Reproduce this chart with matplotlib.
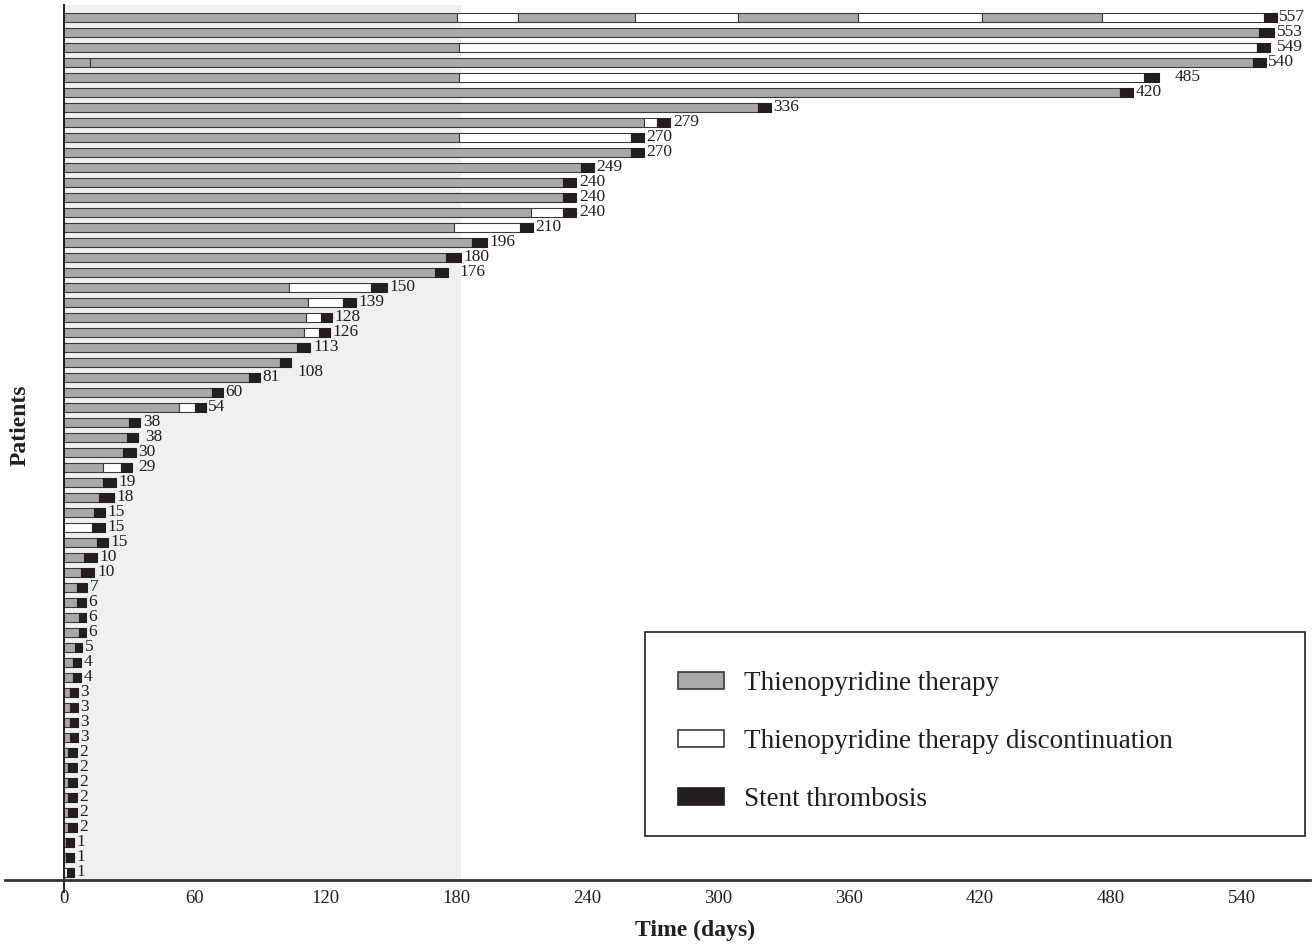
'''
Stent thrombosis timeline per patient
'''

# Imports
import matplotlib
matplotlib.use('Agg')
import matplotlib.pyplot as plt
from matplotlib.patches import Patch, Rectangle


# Data
# day written at the end of each patient's bar, top to bottom
event_day = [557, 553, 549, 540, 485, 420, 336, 279, 270, 270, 249, 240, 240, 240,
             210, 196, 180, 176, 150, 139, 128, 126, 113, 108, 81, 60, 54,
             38, 38, 30, 29, 19, 18, 15, 15, 15, 10, 10, 7,
             6, 6, 6, 5, 4, 4, 3, 3, 3, 3, 2, 2, 2, 2, 2, 2, 1, 1, 1]

# pieces of each bar in days, as drawn: T = therapy, D = discontinuation, S = stent thrombosis
segments = [
    [('T', 180), ('D', 28), ('T', 54), ('D', 47), ('T', 55), ('D', 57), ('T', 55), ('D', 74), ('S', 6)],
    [('T', 548), ('S', 7)],
    [('T', 181), ('D', 366), ('S', 6)],
    [('T', 12), ('T', 533), ('S', 6)],
    [('T', 181), ('D', 314), ('S', 7)],
    [('T', 484), ('S', 6)],
    [('T', 318), ('S', 6)],
    [('T', 266), ('D', 6), ('S', 6)],
    [('T', 181), ('D', 79), ('S', 6)],
    [('T', 260), ('S', 6)],
    [('T', 237), ('S', 6)],
    [('T', 229), ('S', 6)],
    [('T', 229), ('S', 6)],
    [('T', 214), ('D', 15), ('S', 6)],
    [('T', 179), ('D', 30), ('S', 6)],
    [('T', 187), ('S', 7)],
    [('T', 175), ('S', 7)],
    [('T', 170), ('S', 6)],
    [('T', 103), ('D', 38), ('S', 7)],
    [('T', 112), ('D', 16), ('S', 6)],
    [('T', 111), ('D', 7), ('S', 5)],
    [('T', 110), ('D', 7), ('S', 5)],
    [('T', 107), ('S', 6)],
    [('T', 99), ('S', 5)],
    [('T', 85), ('S', 5)],
    [('T', 68), ('S', 5)],
    [('T', 53), ('D', 7), ('S', 5)],
    [('T', 30), ('S', 5)],
    [('T', 29), ('S', 5)],
    [('T', 27), ('S', 6)],
    [('T', 18), ('D', 8), ('S', 5)],
    [('T', 18), ('S', 6)],
    [('T', 16), ('S', 7)],
    [('T', 14), ('S', 5)],
    [('D', 13), ('S', 6)],
    [('T', 15), ('S', 5)],
    [('T', 9), ('S', 6)],
    [('T', 8), ('S', 6)],
    [('T', 6), ('S', 4.5)],
    [('T', 6), ('S', 4)],
    [('T', 7), ('S', 3)],
    [('T', 7), ('S', 3)],
    [('T', 5), ('S', 3.5)],
    [('T', 4), ('S', 4)],
    [('T', 4), ('S', 4)],
    [('T', 3), ('S', 3.5)],
    [('T', 3), ('S', 3.5)],
    [('T', 3), ('S', 3.5)],
    [('T', 3), ('S', 3.5)],
    [('T', 2), ('S', 4)],
    [('T', 2), ('S', 4)],
    [('T', 2), ('S', 4)],
    [('T', 2), ('S', 4)],
    [('T', 2), ('S', 4)],
    [('T', 2), ('S', 4)],
    [('T', 1), ('S', 3.5)],
    [('T', 1), ('S', 3.5)],
    [('D', 1.5), ('S', 3)],
]

time_ticks = [0, 60, 120, 180, 240, 300, 360, 420, 480, 540]
shade_end = 182
legend_labels = ['Thienopyridine therapy',
                 'Thienopyridine therapy discontinuation',
                 'Stent thrombosis']

# Style
colors = {'T': '#a9a9ac', 'D': '#ffffff', 'S': '#231f20'}
edge = '#3a3a3c'
ink = '#231f20'
# a few labels sit further out or lower in the original
label_nudge = {2: (2, 0), 4: (6, 0), 17: (4, 0), 23: (2, 0.67), 28: (2, 0), 30: (2, 0)}

plt.rcParams['font.family'] = ['Liberation Serif', 'DejaVu Serif']

W, H = 1314, 944
fig = plt.figure(figsize=(W / 100, H / 100), dpi=100)
ax = fig.add_axes([5 / W, 1 - 892 / H, 1305 / W, 887 / H])

n = len(segments)
x_axis_row = 57.53

# shaded first 180 days
ax.fill_betweenx([-0.8, x_axis_row], 0, shade_end, color='#eff0f2', lw=0, zorder=0)

for i, segs in enumerate(segments):
    left = 0
    for kind, w in segs:
        ax.barh(i, w, left=left, height=0.6, color=colors[kind],
                edgecolor=ink if kind == 'S' else edge, linewidth=0.8, zorder=2)
        left += w
    dx, dy = label_nudge.get(i, (0, 0))
    ax.text(left + 1.2 + dx, i + dy, str(event_day[i]), va='center', ha='left',
            fontsize=12.5, color=ink)

ax.set_xlim(-27, 571.3)
ax.set_ylim(58.33, -0.8)

for s in ['top', 'right']:
    ax.spines[s].set_visible(False)
ax.spines['left'].set_position(('data', 0))
ax.spines['bottom'].set_position(('data', x_axis_row))
ax.spines['left'].set_color(ink)
ax.spines['bottom'].set_color('#333333')
ax.spines['left'].set_linewidth(1.4)
ax.spines['bottom'].set_linewidth(2)

ax.set_yticks([])
ax.set_xticks(time_ticks)
ax.set_xticklabels([str(t) for t in time_ticks], fontsize=13.5, color=ink)
ax.tick_params(axis='x', length=0, pad=7)

fig.text(695 / W, 1 - 930 / H, 'Time (days)', ha='center', va='center',
         fontsize=17, fontweight='bold', color=ink)
fig.text(20 / W, 1 - 425 / H, 'Patients', ha='center', va='center', rotation=90,
         fontsize=17, fontweight='bold', color=ink)

# Legend box
fig.patches.append(Rectangle((645 / W, 1 - 836 / H), 660 / W, 204 / H, transform=fig.transFigure,
                             fill=False, edgecolor=ink, linewidth=1.2))
handles = [Patch(facecolor=colors[k], edgecolor=edge if k != 'S' else ink, linewidth=1.2)
           for k in ['T', 'D', 'S']]
fig.legend(handles, legend_labels, loc='upper left', bbox_to_anchor=(678 / W, 1 - 671 / H),
           frameon=False, fontsize=19.5, borderpad=0, borderaxespad=0, handlelength=1.7,
           handleheight=0.55, handletextpad=0.75, labelspacing=1.22, labelcolor=ink)

fig.savefig('out.png', dpi=100)
